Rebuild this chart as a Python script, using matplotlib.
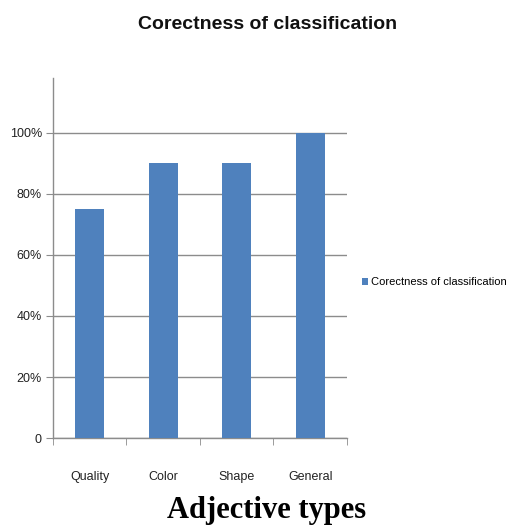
import matplotlib
matplotlib.use("Agg")
import matplotlib.pyplot as plt
from matplotlib.ticker import FuncFormatter
import numpy as np

categories = ["Quality", "Color", "Shape", "General"]
correctness = [0.75, 0.90, 0.90, 1.00]
y_ticks = [0, 0.2, 0.4, 0.6, 0.8, 1.0]
series_name = "Corectness of classification"

sans = ["Liberation Sans", "DejaVu Sans"]
bar_color = "#4F81BD"
grid_color = "#8C8C8C"

fig = plt.figure(figsize=(5.13, 5.31), dpi=100)
ax = fig.add_axes([0.1033, 0.1751, 0.5731, 0.6780])

x = np.arange(len(categories))
bars = ax.bar(x, correctness, width=0.4, color=bar_color, zorder=3,
              label=series_name)

ax.set_xlim(-0.5, len(categories) - 0.5)
ax.set_ylim(0, 1.18)
ax.set_yticks(y_ticks)
ax.yaxis.set_major_formatter(FuncFormatter(lambda v, _: "0" if v == 0 else f"{v:.0%}"))
ax.set_xticks(x)
ax.set_xticklabels(categories, fontfamily=sans, fontsize=9, color="#222222")
ax.set_xticks(np.arange(len(categories) + 1) - 0.5, minor=True)
ax.tick_params(axis="x", which="major", length=0, pad=24)
ax.tick_params(axis="x", which="minor", length=5, color=grid_color, direction="out")
ax.tick_params(axis="y", length=5, color=grid_color, direction="out", pad=3)
for lbl in ax.get_yticklabels():
    lbl.set_fontfamily(sans)
    lbl.set_fontsize(9)
    lbl.set_color("#222222")

ax.yaxis.grid(True, color=grid_color, linewidth=1.0, zorder=0)
for side in ("top", "right"):
    ax.spines[side].set_visible(False)
for side in ("left", "bottom"):
    ax.spines[side].set_color(grid_color)
    ax.spines[side].set_linewidth(1.0)

fig.text(0.522, 0.953, series_name, ha="center", va="center",
         fontsize=14, fontweight="bold", fontfamily=sans, color="#111111")

fig.legend(handles=[bars], labels=[series_name], loc="center left",
           bbox_to_anchor=(0.690, 0.468), frameon=False,
           prop={"family": sans, "size": 8}, handlelength=0.55,
           handleheight=0.55, handletextpad=0.3, borderpad=0.2)

fig.text(0.520, 0.038, "Adjective types", ha="center", va="center",
         fontsize=22, fontweight="bold", fontfamily="Liberation Serif")

fig.savefig("out.png", dpi=100)
